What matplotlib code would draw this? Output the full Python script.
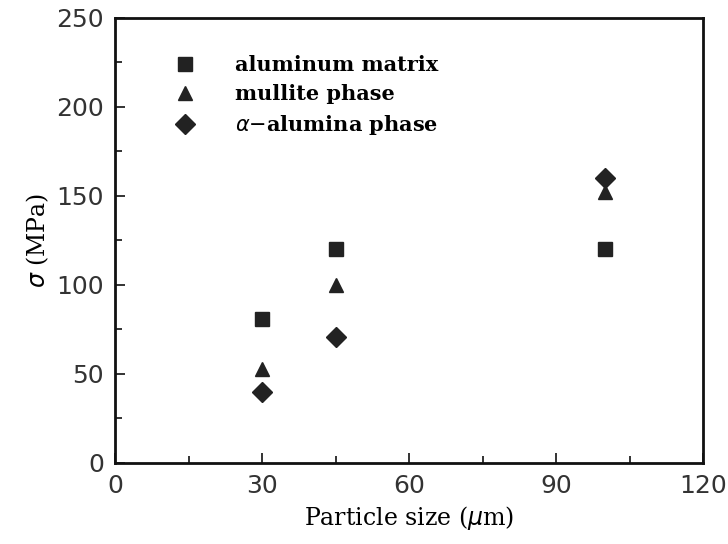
#!/usr/bin/env python3

import matplotlib
matplotlib.use("Agg")
import matplotlib.pyplot as plt
from matplotlib.ticker import MultipleLocator

# particle size (um) and strength (MPa) for each phase
size = [30, 45, 100]
al_matrix = [81, 120, 120]
mullite = [53, 100, 152]
alumina = [40, 71, 160]

fig = plt.figure(figsize=(7.28, 5.44), dpi=100)
ax = fig.add_axes([0.158, 0.149, 0.808, 0.818])

col = "#222222"
ax.plot(size, al_matrix, "s", color=col, markersize=10.5, label="aluminum matrix")
ax.plot(size, mullite, "^", color=col, markersize=10.5, label="mullite phase")
ax.plot(size, alumina, "D", color=col, markersize=10, label=r"$\alpha$$-$alumina phase")

ax.set_xlim(0, 120)
ax.set_ylim(0, 250)
ax.xaxis.set_major_locator(MultipleLocator(30))
ax.xaxis.set_minor_locator(MultipleLocator(15))
ax.yaxis.set_major_locator(MultipleLocator(50))
ax.yaxis.set_minor_locator(MultipleLocator(25))
ax.tick_params(which="both", direction="in", top=False, right=False, width=1.2, colors="#111111")
ax.tick_params(which="major", length=7, labelsize=18, pad=8)
ax.tick_params(which="minor", length=5)
for lbl in ax.get_xticklabels() + ax.get_yticklabels():
	lbl.set_color("#333333")
for s in ax.spines.values():
	s.set_linewidth(2)
	s.set_color("#111111")

ax.set_xlabel(r"Particle size ($\mu$m)", family="DejaVu Serif", fontsize=17, labelpad=4)
ax.set_ylabel(r"$\sigma$ (MPa)", family="DejaVu Serif", fontsize=17, labelpad=4)

ax.legend(loc="upper left", bbox_to_anchor=(0.065, 0.958), frameon=False,
	prop={"family": "DejaVu Serif", "weight": "bold", "size": 15},
	handletextpad=1.8, labelspacing=0.42, handlelength=1.2)

plt.savefig("out.png", dpi=100)
